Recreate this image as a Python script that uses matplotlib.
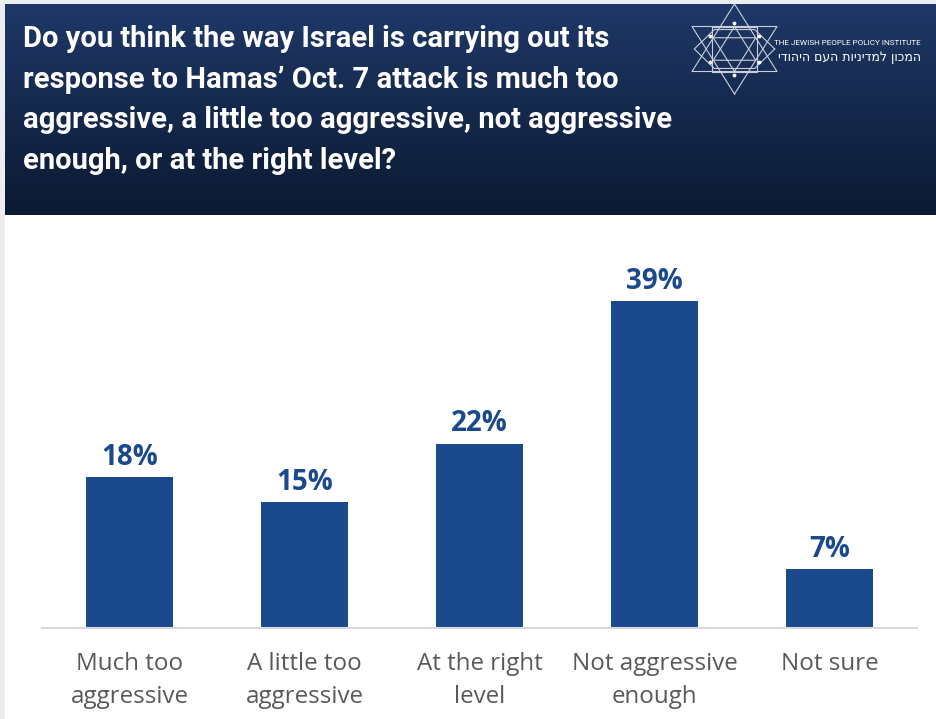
import numpy as np
import matplotlib.pyplot as plt
from matplotlib.patches import Rectangle

# survey answers
categories = ["Much too\naggressive", "A little too\naggressive", "At the right\nlevel",
              "Not aggressive\nenough", "Not sure"]
values = [18, 15, 22, 39, 7]

title = ("Do you think the way Israel is carrying out its\n"
         "response to Hamas\u2019 Oct. 7 attack is much too\n"
         "aggressive, a little too aggressive, not aggressive\n"
         "enough, or at the right level?")
org_en = "THE JEWISH PEOPLE POLICY INSTITUTE"
org_he = "המכון למדיניות העם היהודי"

W, H = 937, 719
fig = plt.figure(figsize=(W / 100, H / 100), dpi=100)
fig.patch.set_facecolor("#edecf1")

# full-figure canvas in pixel units for the header
bg = fig.add_axes([0, 0, 1, 1])
bg.add_patch(Rectangle((5, 4), W - 5, H - 4, color="white", zorder=0))

grad = np.linspace(0, 1, 256).reshape(-1, 1)
top = np.array([31, 56, 103]) / 255
bot = np.array([11, 26, 51]) / 255
img = top + (bot - top) * grad[..., None]
img = np.repeat(img, 2, axis=1)
bg.imshow(img, extent=(5, W, 215, 4), aspect="auto", zorder=1)
bg.set_xlim(0, W)
bg.set_ylim(H, 0)
bg.axis("off")

bg.text(23, 25, title, color="white", fontsize=21, fontweight="bold",
        family=["Roboto", "DejaVu Sans"], va="top", ha="left",
        linespacing=1.57, zorder=3)

# hexagram logo
cx, cy, r, sx = 734.5, 49, 45, 1.09
lc = dict(color="#c9d0dc", lw=0.8, zorder=3)
for scale in (1.0, 0.5):
    for rot in (90, 270):
        a = np.deg2rad(np.array([0, 120, 240, 360]) + rot)
        bg.plot(cx + sx * scale * r * np.cos(a), cy - scale * r * np.sin(a), **lc)
sq = 0.5 * r
bg.plot([cx - sq, cx + sq, cx + sq, cx - sq, cx - sq],
        [cy - sq, cy - sq, cy + sq, cy + sq, cy - sq], **lc)
a = np.deg2rad(np.arange(0, 361, 60))
bg.plot(cx + 0.82 * sx * r * np.cos(a), cy - 0.5 * r * np.sin(a), **lc)
pts = np.deg2rad(np.arange(0, 360, 60) + 30)
bg.scatter(cx + sx * r * 0.577 * np.cos(pts), cy - r * 0.577 * np.sin(pts),
           s=3, color="white", zorder=4)
bg.text(921, 43, org_en, color="white", fontsize=5.9, family="Roboto",
        va="center", ha="right", zorder=3)
bg.text(921, 57, org_he[::-1], color="white", fontsize=9, family="DejaVu Sans",
        va="center", ha="right", zorder=3)

# bar chart
ax = fig.add_axes([42 / W, 91 / H, 875 / W, 398 / H])
x = np.arange(len(values))
bars = ax.bar(x, values, width=0.5, color="#1b4a8c", zorder=2)
ax.set_xlim(-0.5, len(values) - 0.5)
ax.set_ylim(0, 47.5)
ax.set_facecolor("none")
for s in ("top", "right", "left"):
    ax.spines[s].set_visible(False)
ax.spines["bottom"].set_color("#d9d9d9")
ax.spines["bottom"].set_linewidth(1.5)
ax.set_yticks([])
ax.set_xticks(x)
ax.set_xticklabels(categories, fontsize=17.4, color="#595959", family="Open Sans",
                   linespacing=1.5)
ax.tick_params(axis="x", length=0, pad=17)
for b, v in zip(bars, values):
    ax.annotate(f"{v}%", (b.get_x() + b.get_width() / 2, v), xytext=(0, 4),
                textcoords="offset points", ha="center", va="bottom",
                fontsize=20, fontweight="bold", color="#1b4a8c", family="Open Sans")

fig.savefig("out.png", dpi=100)
